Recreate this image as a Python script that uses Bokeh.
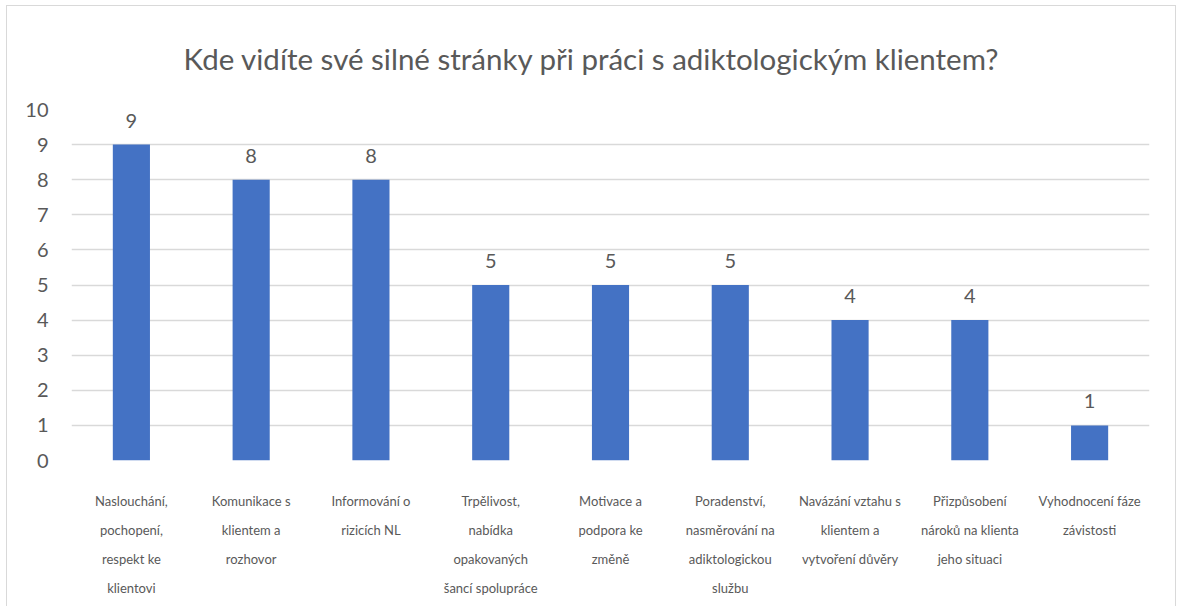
from bokeh.plotting import figure
from bokeh.models import (ColumnDataSource, LabelSet, FactorRange, FixedTicker,
                          CategoricalAxis, CustomJSTickFormatter)
from bokeh.core.properties import value
from bokeh.embed import file_html
from bokeh.resources import INLINE

title_text = "Kde vidíte své silné stránky při práci s adiktologickým klientem?"
categories = [
    "Naslouchání, pochopení, respekt ke klientovi",
    "Komunikace s klientem a rozhovor",
    "Informování o rizicích NL",
    "Trpělivost, nabídka opakovaných šancí spolupráce",
    "Motivace a podpora ke změně",
    "Poradenství, nasměrování na adiktologickou službu",
    "Navázání vztahu s klientem a vytvoření důvěry",
    "Přizpůsobení nároků na klienta jeho situaci",
    "Vyhodnocení fáze závistosti",
]
label_lines = [
    ["Naslouchání,", "pochopení,", "respekt ke", "klientovi"],
    ["Komunikace s", "klientem a", "rozhovor"],
    ["Informování o", "rizicích NL"],
    ["Trpělivost,", "nabídka", "opakovaných", "šancí spolupráce"],
    ["Motivace a", "podpora ke", "změně"],
    ["Poradenství,", "nasměrování na", "adiktologickou", "službu"],
    ["Navázání vztahu s", "klientem a", "vytvoření důvěry"],
    ["Přizpůsobení", "nároků na klienta", "jeho situaci"],
    ["Vyhodnocení fáze", "závistosti"],
]
values = [9, 8, 8, 5, 5, 5, 4, 4, 1]
y_ticks = [0, 1, 2, 3, 4, 5, 6, 7, 8, 9, 10]

FONT = "Lato"
GREY = "#595959"

p = figure(
    x_range=FactorRange(factors=categories, range_padding=0),
    y_range=(0, 10),
    width=1170, height=606,
    output_backend="svg", toolbar_location=None,
    min_border_left=64, min_border_right=28, min_border_top=91, min_border_bottom=152,
)
p.styles = {"border": "1px solid #d9d9d9", "margin-left": "6px", "margin-top": "5px"}
p.title.text = title_text
p.title.align = "left"
p.title.vertical_align = "middle"
p.title.offset = 112
p.title.text_font = FONT
p.title.text_font_size = "29.5px"
p.title.text_font_style = "normal"
p.title.text_color = GREY
p.title.standoff = 66

src = ColumnDataSource(dict(cat=categories, val=values, txt=[str(v) for v in values]))
p.vbar(x="cat", top="val", width=0.31, source=src, fill_color="#4472C4", line_color=None)

vl = LabelSet(x="cat", y="val", text="txt", source=src, text_align="center",
              text_baseline="alphabetic", y_offset=17, text_font=value(FONT),
              text_font_size="20px", text_color=GREY)
p.add_layout(vl)

# category labels: one stacked axis per text line
n_lines = max(len(l) for l in label_lines)
standoffs = [32] + [10] * (n_lines - 1)
for i in range(n_lines):
    mapping = {c: (lines[i] if i < len(lines) else " ") for c, lines in zip(categories, label_lines)}
    ax = p.xaxis[0] if i == 0 else CategoricalAxis()
    ax.formatter = CustomJSTickFormatter(args=dict(m=mapping), code="return m[tick] || ' ';")
    ax.axis_line_color = None
    ax.major_tick_line_color = None
    ax.minor_tick_line_color = None
    ax.major_tick_in = 0
    ax.major_tick_out = 0
    ax.major_label_standoff = standoffs[i]
    ax.major_label_text_font = FONT
    ax.major_label_text_font_size = "13px"
    ax.major_label_text_color = GREY
    if i > 0:
        p.add_layout(ax, "below")

p.yaxis.ticker = FixedTicker(ticks=y_ticks)
p.yaxis.axis_line_color = None
p.yaxis.major_tick_line_color = None
p.yaxis.minor_tick_line_color = None
p.yaxis.major_label_text_font = FONT
p.yaxis.major_label_text_font_size = "20px"
p.yaxis.major_label_text_color = GREY
p.yaxis.major_label_standoff = 17
p.xgrid.grid_line_color = None
p.ygrid.ticker = FixedTicker(ticks=y_ticks)
p.ygrid.grid_line_color = "#d9d9d9"
p.ygrid.grid_line_width = 1.5
p.outline_line_color = None
p.background_fill_color = "white"
p.border_fill_color = "white"

open("out.html", "w").write(file_html(p, INLINE))
